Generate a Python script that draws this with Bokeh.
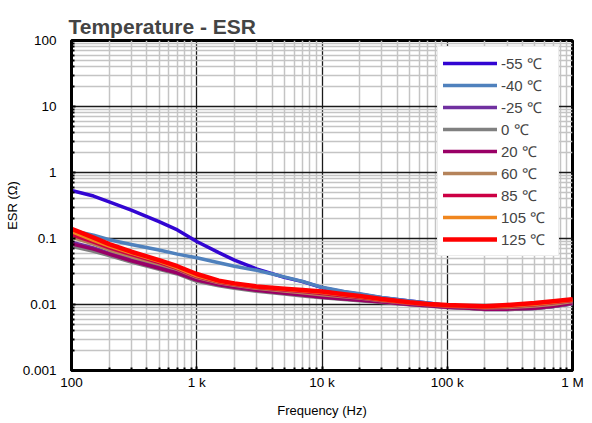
from bokeh.plotting import figure
from bokeh.models import FixedTicker, Legend, LegendItem
from bokeh.embed import file_html
from bokeh.resources import INLINE

freq = [100, 150, 200, 300, 500, 700, 1000, 1500, 2000, 3000, 5000, 7000, 10000,
        15000, 20000, 30000, 50000, 70000, 100000, 150000, 200000, 300000, 500000,
        700000, 1000000]

esr_m55 = [0.533, 0.440, 0.360, 0.270, 0.180, 0.135, 0.090, 0.061, 0.047, 0.0347,
           0.0258, 0.0222, 0.0180, 0.0155, 0.0143, 0.0127, 0.0113, 0.0105, 0.0097,
           0.0092, 0.0088, 0.0087, 0.0089, 0.0094, 0.0104]
esr_m40 = [0.132, 0.112, 0.096, 0.081, 0.067, 0.058, 0.051, 0.043, 0.038, 0.033,
           0.0262, 0.0224, 0.0182, 0.0157, 0.0145, 0.0128, 0.0113, 0.0105, 0.0096,
           0.0091, 0.0087, 0.0086, 0.0088, 0.0093, 0.0103]
esr_m25 = [0.088, 0.072, 0.060, 0.048, 0.037, 0.031, 0.0245, 0.0205, 0.0187, 0.0168,
           0.0151, 0.0141, 0.0131, 0.0123, 0.0117, 0.0110, 0.0101, 0.0097, 0.0091,
           0.0088, 0.0084, 0.0084, 0.0087, 0.0093, 0.0103]
esr_0 = [0.076, 0.064, 0.055, 0.044, 0.034, 0.029, 0.0225, 0.0192, 0.0176, 0.0159,
         0.0144, 0.0135, 0.0126, 0.0119, 0.0114, 0.0107, 0.0099, 0.0095, 0.0090,
         0.0087, 0.0084, 0.0084, 0.0087, 0.0093, 0.0103]
esr_20 = [0.083, 0.069, 0.058, 0.046, 0.0355, 0.030, 0.0235, 0.0199, 0.0182, 0.0164,
          0.0148, 0.0139, 0.0129, 0.0121, 0.0116, 0.0109, 0.0100, 0.0096, 0.0091,
          0.0088, 0.0085, 0.0085, 0.0088, 0.0094, 0.0104]
esr_60 = [0.105, 0.082, 0.067, 0.053, 0.041, 0.034, 0.0258, 0.0213, 0.0195, 0.0176,
          0.0160, 0.0151, 0.0141, 0.0131, 0.0125, 0.0114, 0.0104, 0.0099, 0.0094,
          0.0092, 0.0089, 0.0090, 0.0095, 0.0101, 0.0111]
esr_85 = [0.114, 0.088, 0.072, 0.057, 0.043, 0.035, 0.0265, 0.0218, 0.0200, 0.0181,
          0.0166, 0.0157, 0.0147, 0.0135, 0.0128, 0.0116, 0.0105, 0.0100, 0.0095,
          0.0093, 0.0091, 0.0093, 0.0099, 0.0106, 0.0115]
esr_105 = [0.127, 0.094, 0.077, 0.060, 0.045, 0.036, 0.0272, 0.0223, 0.0204, 0.0184,
           0.0170, 0.0161, 0.0152, 0.0139, 0.0131, 0.0118, 0.0106, 0.0101, 0.0096,
           0.0094, 0.0092, 0.0095, 0.0101, 0.0108, 0.0117]
esr_125 = [0.140, 0.103, 0.082, 0.063, 0.047, 0.038, 0.029, 0.0230, 0.0209, 0.0188,
           0.0174, 0.0166, 0.0157, 0.0143, 0.0135, 0.0121, 0.0108, 0.0102, 0.0098,
           0.0096, 0.0094, 0.0098, 0.0105, 0.0112, 0.0120]

series_labels = ["-55 ℃", "-40 ℃", "-25 ℃", "0 ℃", "20 ℃", "60 ℃", "85 ℃", "105 ℃", "125 ℃"]
series_values = [esr_m55, esr_m40, esr_m25, esr_0, esr_20, esr_60, esr_85, esr_105, esr_125]
series_colors = ["#3205D2", "#4F81BD", "#7030A0", "#808080", "#990066", "#B5835A",
                 "#CC0044", "#F0861E", "#FF0000"]

x_ticks = [100, 1000, 10000, 100000, 1000000]
x_tick_labels = ["100", "1 k", "10 k", "100 k", "1 M"]
y_ticks = [0.001, 0.01, 0.1, 1, 10, 100]
y_tick_labels = ["0.001", "0.01", "0.1", "1", "10", "100"]

FONT = "Liberation Sans"

p = figure(width=592, height=423, x_axis_type="log", y_axis_type="log",
           x_range=(100, 1000000), y_range=(0.001, 100),
           output_backend="svg", toolbar_location=None,
           min_border_left=71, min_border_right=20, min_border_top=40, min_border_bottom=53)

p.title.text = "Temperature - ESR"
p.title.text_font = FONT
p.title.text_font_size = "21px"
p.title.text_font_style = "bold"
p.title.align = "left"
p.title.offset = -3
p.title.standoff = 6

x_minor = [d * k for d in [100, 1000, 10000, 100000] for k in range(2, 10)]
y_minor = [d * k for d in [0.001, 0.01, 0.1, 1, 10] for k in range(2, 10)]
p.xaxis.ticker = FixedTicker(ticks=x_ticks, minor_ticks=x_minor)
p.yaxis.ticker = FixedTicker(ticks=y_ticks, minor_ticks=y_minor)
p.xaxis.major_label_overrides = dict(zip(x_ticks, x_tick_labels))
p.yaxis.major_label_overrides = dict(zip(y_ticks, y_tick_labels))

for ax in (p.xaxis, p.yaxis):
    ax.axis_line_width = 3
    ax.axis_line_color = "black"
    ax.major_tick_in = 4
    ax.major_tick_out = 0
    ax.minor_tick_in = 3
    ax.minor_tick_out = 0
    ax.major_tick_line_width = 2
    ax.minor_tick_line_width = 2
    ax.major_label_text_font = FONT
    ax.major_label_text_font_size = "13.5px"
    ax.major_label_text_color = "black"
    ax.axis_label_text_font = FONT
    ax.axis_label_text_font_size = "13px"
    ax.axis_label_text_font_style = "normal"
    ax.axis_label_text_color = "black"

p.xaxis.axis_label = "Frequency (Hz)"
p.yaxis.axis_label = "ESR (Ω)"
p.xaxis.major_label_standoff = 4
p.yaxis.major_label_standoff = 15
p.xaxis.axis_label_standoff = 10
p.yaxis.axis_label_standoff = 0

p.outline_line_color = "black"
p.outline_line_width = 3

for g in (p.xgrid, p.ygrid):
    g.grid_line_color = "#1a1a1a"
    g.grid_line_width = 1.3
    g.minor_grid_line_color = "#c4c4c4"
    g.minor_grid_line_width = 1.5

items = []
for lab, vals, col in zip(series_labels, series_values, series_colors):
    r = p.line(freq, vals, line_color=col, line_width=4.5 if col == "#FF0000" else 3.5,
               line_cap="round", line_join="round")
    items.append(LegendItem(label=lab, renderers=[r]))

legend = Legend(items=items, location=(366, 114))
legend.label_text_font = FONT
legend.label_text_font_size = "15px"
legend.glyph_width = 54
legend.glyph_height = 22
legend.label_height = 22
legend.label_width = 52
legend.spacing = 0
legend.label_standoff = 4
legend.padding = 5
legend.margin = 0
legend.border_line_color = "#d9d9d9"
legend.border_line_width = 1
legend.background_fill_alpha = 1
p.add_layout(legend)

open("out.html", "w").write(file_html(p, INLINE))
